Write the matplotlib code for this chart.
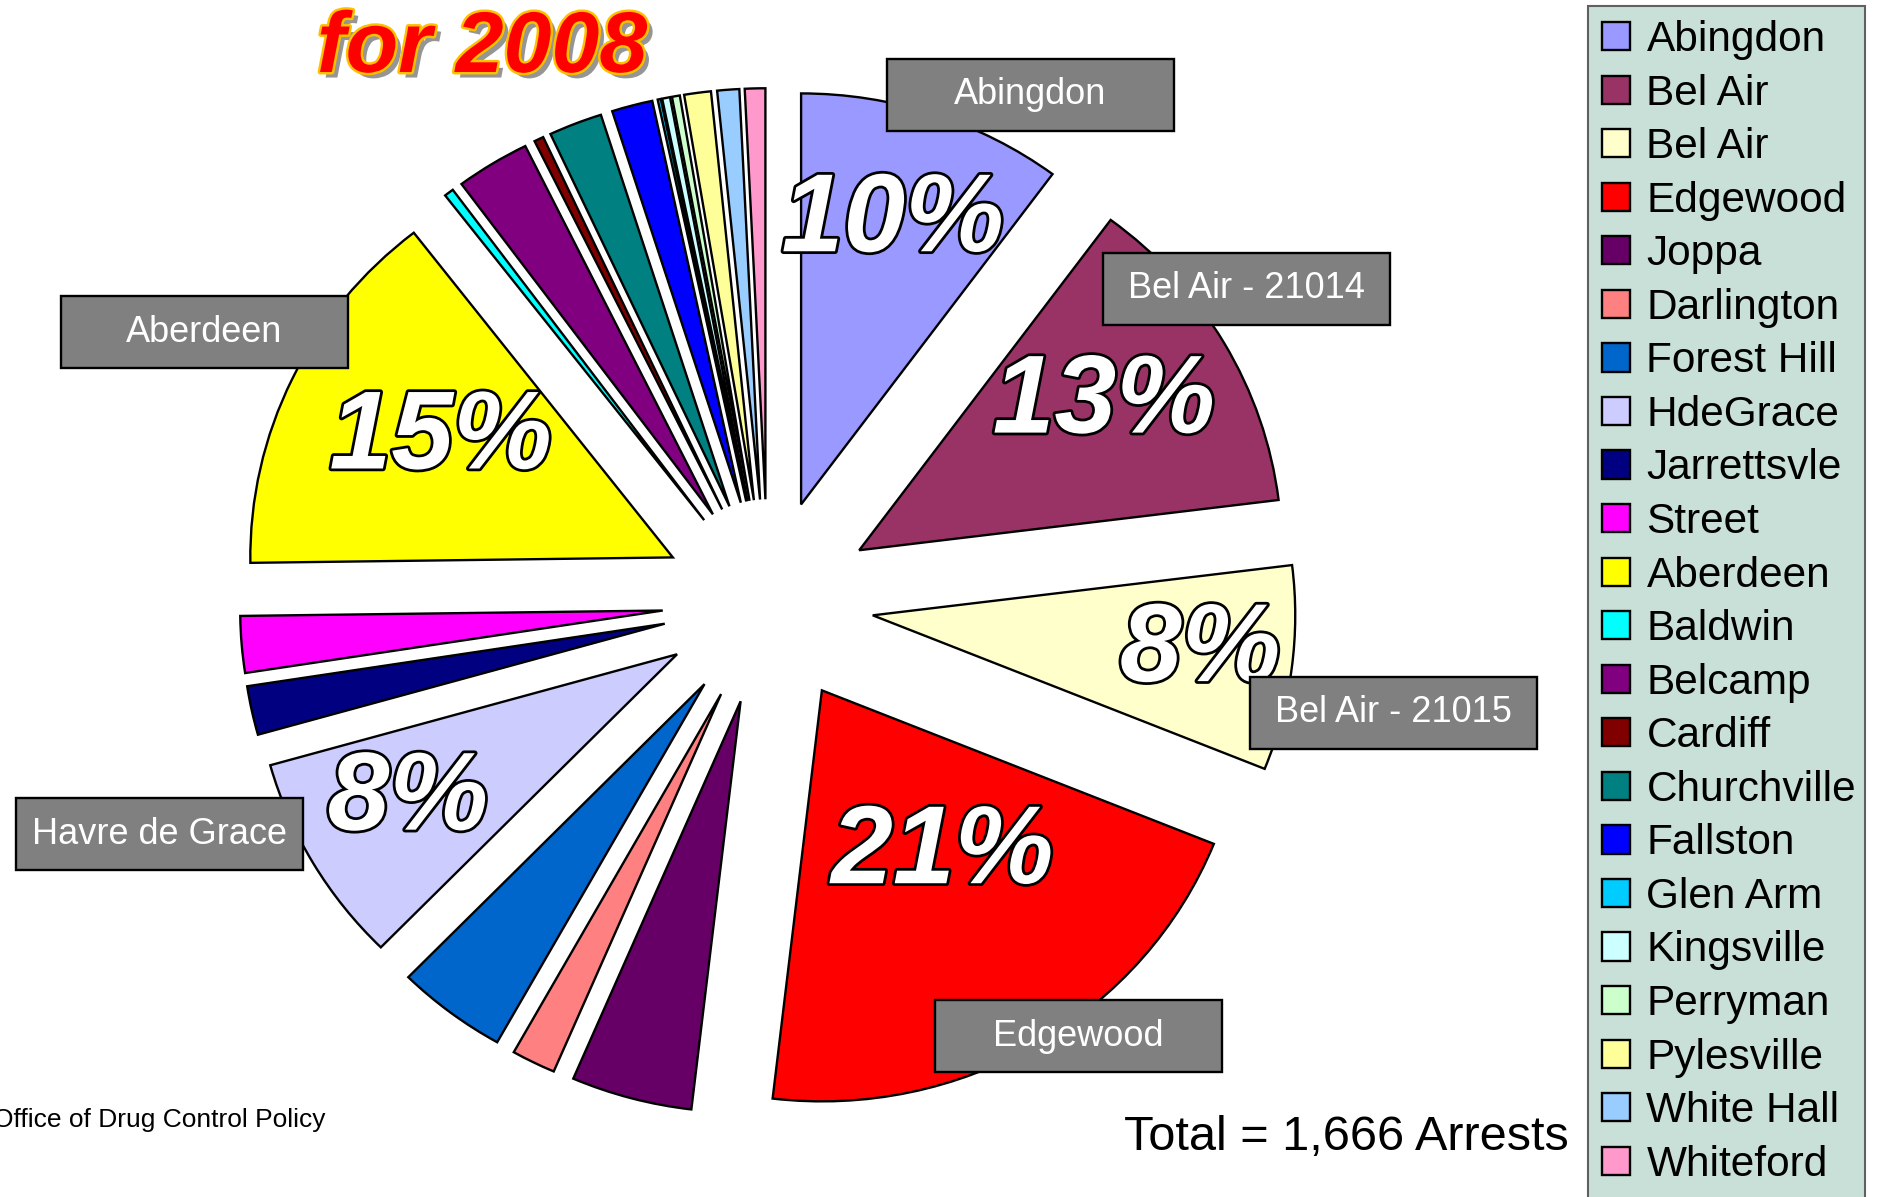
import numpy as np
import matplotlib
matplotlib.use('Agg')
import matplotlib.pyplot as plt
import matplotlib.patheffects as pe
from matplotlib.patches import Rectangle

# ── data: arrests by town, clockwise from 12 o'clock ──
towns = ['Abingdon', 'Bel Air', 'Bel Air', 'Edgewood', 'Joppa', 'Darlington',
         'Forest Hill', 'HdeGrace', 'Jarrettsvle', 'Street', 'Aberdeen',
         'Baldwin', 'Belcamp', 'Cardiff', 'Churchville', 'Fallston', 'Glen Arm',
         'Kingsville', 'Perryman', 'Pylesville', 'White Hall', 'Whiteford']
arrests = [169, 215, 134, 346, 77, 28, 70, 138, 32, 37, 245,
           6, 47, 6, 34, 26, 2, 5, 5, 17, 14, 13]
colors = ['#9999FF', '#993366', '#FFFFCC', '#FF0000', '#660066', '#FF8080',
          '#0066CC', '#CCCCFF', '#000080', '#FF00FF', '#FFFF00', '#00FFFF',
          '#800080', '#800000', '#008080', '#0000FF', '#00CCFF', '#CCFFFF',
          '#CCFFCC', '#FFFF99', '#99CCFF', '#FF99CC']
# call-out labels for the big slices
callout_idx = [0, 1, 2, 3, 7, 10]
callout_text = ['Abingdon', 'Bel Air - 21014', 'Bel Air - 21015', 'Edgewood',
                'Havre de Grace', 'Aberdeen']

# ── layout (pixels, origin top-left) ──
W, H = 1879, 1197
CX, CY, R = 768, 602, 411
SX = 1.028          # the original pie is drawn a little wider than tall
box_centers = [(1030, 95), (1246, 289), (1393, 713), (1078, 1036), (159, 834), (204, 332)]
box_w, box_h = 287, 72
# percent label: (fraction along the arc from slice start, fraction of radius)
pct_pos = [(0.48, 0.72), (0.47, 0.68), (0.47, 0.78), (0.435, 0.49), (0.546, 0.73), (0.535, 0.62)]


def to_data(px, py):
    return (px - CX) / (R * SX), (CY - py) / R


plt.rcParams['font.family'] = ['Liberation Sans', 'DejaVu Sans']

fig = plt.figure(figsize=(W / 100, H / 100), dpi=100)
ax = fig.add_axes([0, 0, 1, 1])

wedges, _ = ax.pie(arrests, colors=colors, startangle=90, counterclock=False,
                   explode=[0.25] * len(arrests), radius=1,
                   wedgeprops=dict(edgecolor='black', linewidth=1.7))

ax.set_aspect('auto')
ax.set_xlim(-CX / (R * SX), (W - CX) / (R * SX))
ax.set_ylim((CY - H) / R, CY / R)
ax.axis('off')

total = sum(arrests)

# ── big percent labels ──
for (fa, fr), i in zip(pct_pos, callout_idx):
    w = wedges[i]
    a = np.deg2rad(w.theta2 - fa * (w.theta2 - w.theta1))
    x = w.center[0] + fr * np.cos(a)
    y = w.center[1] + fr * np.sin(a)
    ax.text(x, y, f"{round(100 * arrests[i] / total)}%", ha='center', va='center',
            fontsize=80, color='white', fontweight='bold', fontstyle='italic',
            family=['Liberation Sans Narrow', 'Liberation Sans', 'DejaVu Sans'],
            path_effects=[pe.Stroke(linewidth=4, foreground='black'), pe.Normal()],
            zorder=5)

# ── grey call-out boxes ──
for (bx, by), txt in zip(box_centers, callout_text):
    x0, y0 = to_data(bx - box_w / 2, by + box_h / 2)
    ax.add_patch(Rectangle((x0, y0), box_w / (R * SX), box_h / R, facecolor='#808080',
                           edgecolor='black', linewidth=1.7, zorder=6))
    tx, ty = to_data(bx, by)
    ax.text(tx, ty, txt, ha='center', va='center', color='white', fontsize=26, zorder=7)

# ── title ──
tx, ty = to_data(482, 50)
ax.text(tx, ty, 'for 2008', ha='center', va='center', fontsize=62, color='red',
        fontweight='bold', fontstyle='italic',
        path_effects=[pe.SimplePatchShadow(offset=(4, -4), shadow_rgbFace='#8a8a8a', alpha=0.9),
                      pe.Stroke(linewidth=3.5, foreground='#FFC000'), pe.Normal()])

# ── footers ──
tx, ty = to_data(325, 1120)
ax.text(tx, ty, 'Office of Drug Control Policy', ha='right', va='center', fontsize=19)
tx, ty = to_data(1346, 1150)
ax.text(tx, ty, f"Total = {total:,} Arrests", ha='center', va='baseline', fontsize=35)

# ── legend ──
leg = ax.legend(wedges, towns, loc='upper left', mode='expand',
                bbox_to_anchor=(1588 / W, 0, 277 / W, 1 - 6 / H),
                bbox_transform=fig.transFigure, fontsize=30.5, frameon=True,
                fancybox=False, facecolor='#C9E0D9', edgecolor='#606060',
                framealpha=1, borderaxespad=0, borderpad=0.33, labelspacing=0.32,
                handlelength=0.65, handleheight=0.65, handletextpad=0.4)
leg.get_frame().set_linewidth(1.5)

fig.savefig('out.png', dpi=100)
plt.close(fig)
